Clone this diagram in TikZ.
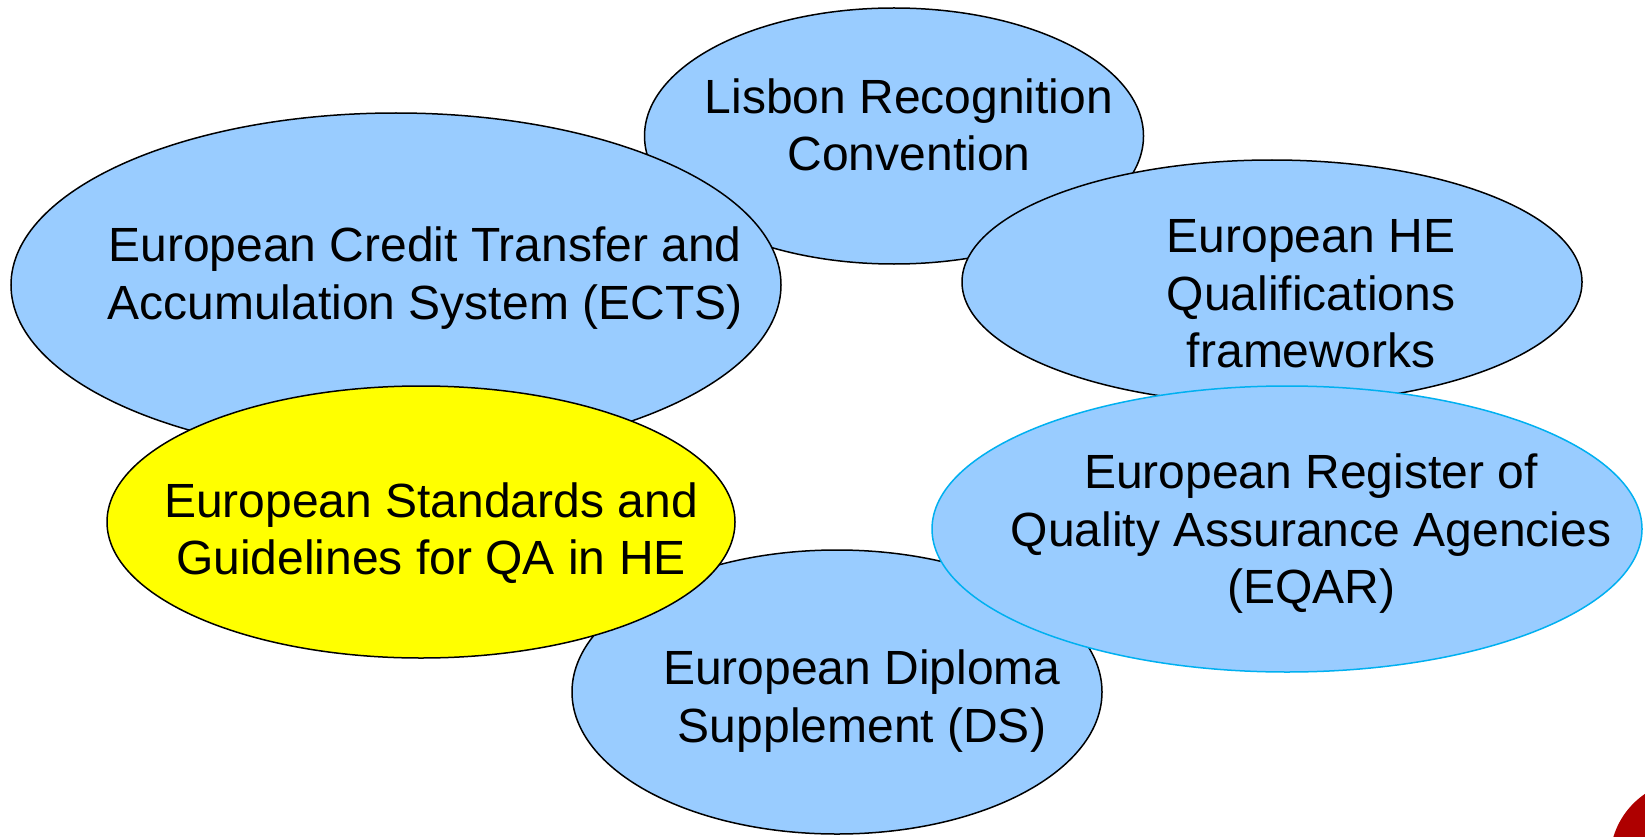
\documentclass[tikz,border=0pt]{standalone}
\usepackage{fontspec}
\setmainfont{Liberation Sans}
\usetikzlibrary{shapes.geometric}
\definecolor{lblue}{HTML}{99CCFF}
\definecolor{qayellow}{HTML}{FFFF00}
\definecolor{eqarline}{HTML}{00B0F0}
\definecolor{darkred}{HTML}{AE0000}
\tikzset{
  oval/.style={ellipse, draw=black, line width=1.5pt, fill=lblue, inner sep=0pt, outer sep=0pt},
  label text/.style={align=center, inner sep=0pt, font=\fontsize{48}{57.5}\selectfont, text=black}
}
\begin{document}
\begin{tikzpicture}[x=1pt,y=-1pt]
\useasboundingbox (0,0) rectangle (1645,837);
\clip (0,0) rectangle (1645,837);
\fill[white] (0,0) rectangle (1645,837);
% ellipses in stacking order
\node[oval, minimum width=499pt, minimum height=256pt] (lisbon) at (894,136) {};
\node[oval, minimum width=770pt, minimum height=344pt] (ects) at (396,285) {};
\node[oval, minimum width=620pt, minimum height=244pt] (heqf) at (1272,282) {};
\node[oval, minimum width=530pt, minimum height=284pt] (ds) at (837,692) {};
\node[oval, fill=qayellow, minimum width=628pt, minimum height=272pt] (esg) at (421,522) {};
\node[oval, draw=eqarline, minimum width=710pt, minimum height=286pt] (eqar) at (1287,529) {};
% texts
\node[label text] (tlisbon) at (909,125) {Lisbon Recognition\\Convention};
\node[label text] (tects) at (425,278) {European Credit Transfer and\\Accumulation System (ECTS)};
\node[label text] (theqf) at (1311,294) {European HE\\Qualifications\\frameworks};
\node[label text] (tds) at (862,701) {European Diploma\\Supplement (DS)};
\node[label text] (tesg) at (431,533) {European Standards and\\Guidelines for QA in HE};
\node[label text] (teqar) at (1311,534) {European Register of\\Quality Assurance Agencies\\(EQAR)};
% corner mark
\node[circle, fill=darkred, minimum size=160pt, inner sep=0pt] (corner) at (1690,860) {};
\end{tikzpicture}
\end{document}
